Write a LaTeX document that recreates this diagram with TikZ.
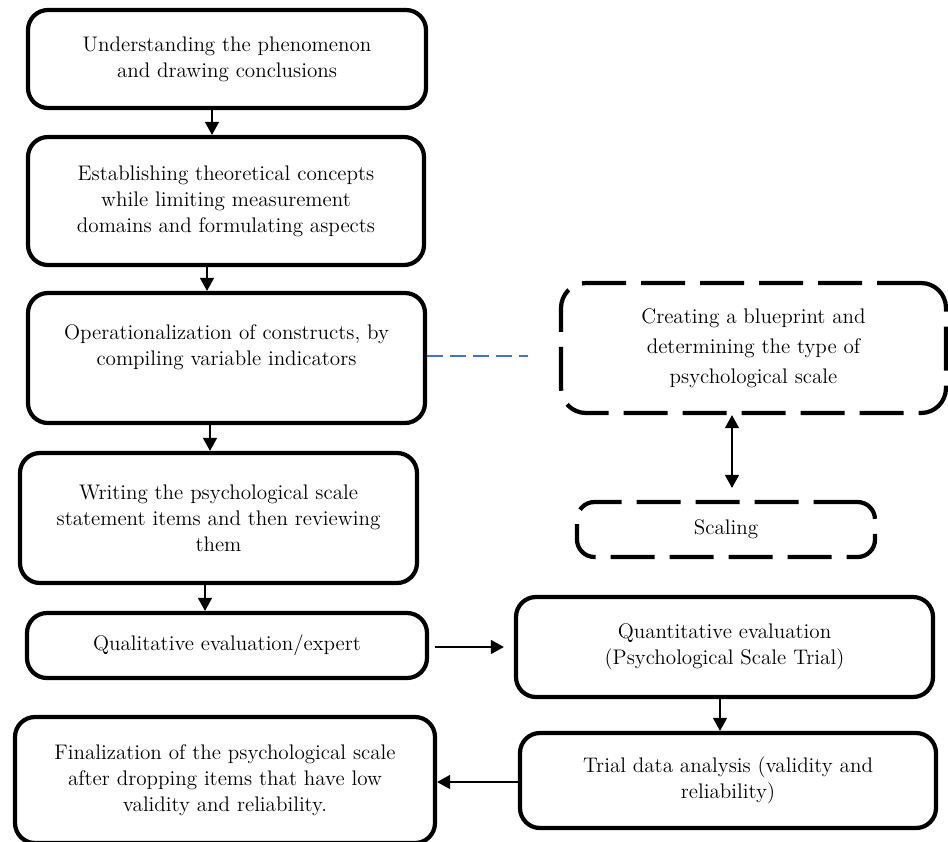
\documentclass[tikz,border=0pt]{standalone}
\usepackage{tikz}
\usetikzlibrary{positioning, arrows.meta, calc}

\begin{document}
\begin{tikzpicture}[
		thick,
		>={Triangle[length=0.26cm, width=0.28cm]},
		% Style for the solid stages
		stage/.style={
			rectangle,
			rounded corners=0.4cm,
			draw=black,
			line width=2.4pt,
			fill=white,
			align=center,
			inner sep=2pt,
			font=\fontsize{12}{14.8}\selectfont
		},
		% Style for the dashed side stages
		sidestage/.style={
			stage,
			rounded corners=0.5cm,
			dash pattern=on 0.88cm off 0.3cm
		},
		% Style for the main flow arrows
		flow/.style={
			->,
			line width=0.8pt
		},
		% Style for the blue dashed link
		link/.style={
			draw=linkblue,
			line width=0.9pt,
			dash pattern=on 0.32cm off 0.14cm
		}
		]
		\definecolor{linkblue}{RGB}{68,114,196}
		
		% --- CANVAS ---
		\useasboundingbox (0,0) rectangle (18.96,-16.82);
		
		% --- NODES (LEFT COLUMN) ---
		\node[stage, minimum width=7.96cm, minimum height=1.96cm] (UP) at (4.54,-1.18)
			{Understanding the phenomenon\\and drawing conclusions};
		\node[stage, minimum width=7.92cm, minimum height=2.56cm] (TC) at (4.52,-4.02)
			{Establishing theoretical concepts\\while limiting measurement\\domains and formulating aspects};
		\node[stage, minimum width=7.94cm, minimum height=2.60cm] (OC) at (4.53,-7.16)
			{Operationalization of constructs, by\\compiling variable indicators\\~};
		\node[stage, minimum width=7.94cm, minimum height=2.60cm] (WI) at (4.37,-10.36)
			{Writing the psychological scale\\statement items and then reviewing\\them};
		\node[stage, minimum width=8.00cm, minimum height=1.30cm] (QL) at (4.54,-12.91)
			{Qualitative evaluation/expert};
		\node[stage, minimum width=8.40cm, minimum height=2.52cm] (FS) at (4.50,-15.60)
			{Finalization of the psychological scale\\after dropping items that have low\\validity and reliability.};
		
		% --- NODES (RIGHT COLUMN) ---
		\node[sidestage, minimum width=7.70cm, minimum height=2.60cm,
			font=\fontsize{12}{17}\selectfont] (BP) at (15.07,-6.96)
			{Creating a blueprint and\\determining the type of\\psychological scale};
		\node[sidestage, rounded corners=0.35cm, minimum width=5.96cm, minimum height=1.10cm] (SC) at (14.52,-10.59)
			{Scaling};
		\node[stage, minimum width=8.34cm, minimum height=2.00cm] (QN) at (14.49,-12.94)
			{Quantitative evaluation\\(Psychological Scale Trial)};
		\node[stage, minimum width=8.32cm, minimum height=1.90cm] (TD) at (14.56,-15.61)
			{Trial data analysis (validity and\\reliability)};
		
		% --- EDGES ---
		
		% Main downward flow
		\draw[flow] ([xshift=-3mm]UP.south) -- ([xshift=-3mm]UP.south |- TC.north);
		\draw[flow] ([xshift=-3.8mm]TC.south) -- ([xshift=-3.8mm]TC.south |- OC.north);
		\draw[flow] ([xshift=-3.3mm]OC.south) -- ([xshift=-3.3mm]OC.south |- WI.north);
		\draw[flow] ([xshift=-2.7mm]WI.south) -- ([xshift=-2.7mm]WI.south |- QL.north);
		
		% Across to the trial and back
		\draw[flow, shorten <=0.12cm, shorten >=0.2cm] ([yshift=-0.03cm]QL.east) -- ([yshift=-0.03cm]QL.east -| QN.west);
		\draw[flow] ([xshift=-0.9mm]QN.south) -- ([xshift=-0.9mm]QN.south |- TD.north);
		\draw[flow] ([yshift=-0.03cm]TD.west) -- ([yshift=-0.03cm]TD.west -| FS.east);
		
		% Blueprint and scaling
		\draw[link, shorten >=0.62cm] ([yshift=0.04cm]OC.east) -- ([yshift=0.04cm]OC.east -| BP.west);
		\draw[<->, line width=0.8pt, shorten >=0.24cm] ([xshift=1.2mm]SC.north |- BP.south) -- ([xshift=1.2mm]SC.north);
		
	\end{tikzpicture}
\end{document}
